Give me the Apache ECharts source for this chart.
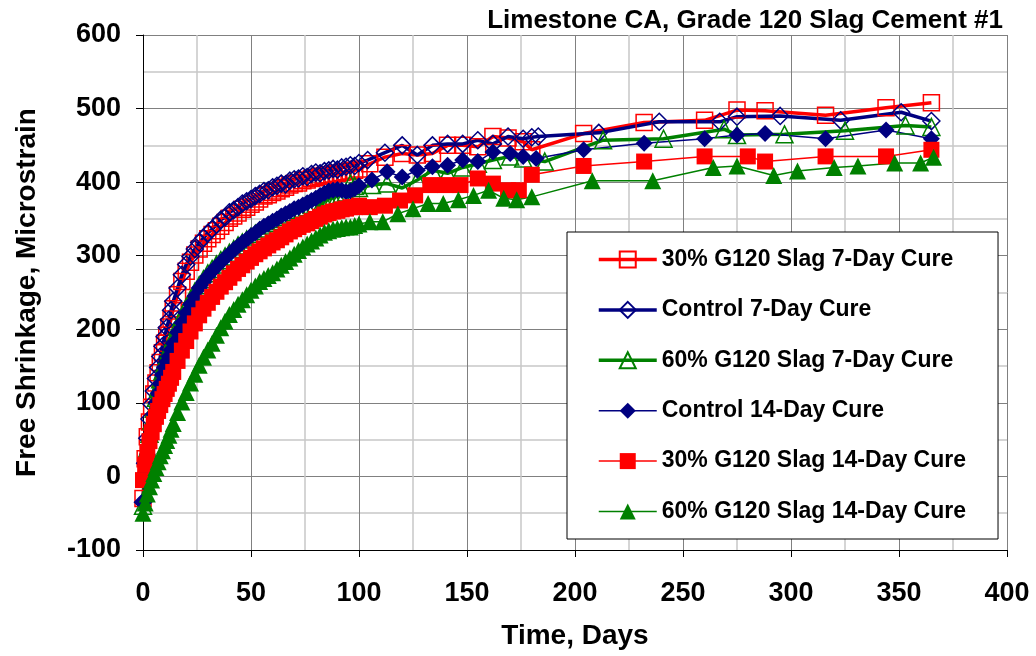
<!DOCTYPE html>
<html>
<head>
<meta charset="utf-8">
<script src="https://cdn.jsdelivr.net/npm/echarts@6/dist/echarts.min.js"></script>
<style>
html,body{margin:0;padding:0;background:#fff;}
#chart{width:1036px;height:656px;}
</style>
</head>
<body>
<div id="chart"></div>
<script>
// ---------- DATA ----------
const titleText = "Limestone CA, Grade 120 Slag Cement #1";
const xAxisTitle = "Time, Days";
const yAxisTitle = "Free Shrinkage, Microstrain";
const seriesNames = [
  "30% G120 Slag 7-Day Cure",
  "Control 7-Day Cure",
  "60% G120 Slag 7-Day Cure",
  "Control 14-Day Cure",
  "30% G120 Slag 14-Day Cure",
  "60% G120 Slag 14-Day Cure"
];

// shared reading days for the dense early period
const earlyDays = [0,1,2,3,4,5,6,7,8,9,10,11,12,13,14,16,18,20,22,24,26,28,30,32,34,36,38,40,42,44,46,48,50,52,54,56,58,60,62,64,66,68,70,72,74,76,78,80,82,84,86,88,90,92,94,96,98,100];

// 30% G120 Slag 7-Day Cure
const slag30c7Early = [-30,24,54,74,94,112,127,141,155,168,181,192,203,214,228,247,265,279,291,301,309,317,323,329,334,340,345,351,354,358,363,366,370,373,377,381,383,386,388,391,393,396,398,399,402,403,405,406,408,409,410,411,412,413,414,415,416,418];
const slag30c7LateDays = [105,112,120,127,134,141,148,155,162,169,176,180,204,232,260,275,288,316,344,365];
const slag30c7LateVals = [425,434,439,437,439,450,450,448,462,460,455,444,466,481,484,498,497,491,501,508];

// Control 7-Day Cure
const ctrlC7Early = [-35,18,52,78,98,116,133,148,163,177,190,202,213,226,238,256,274,288,299,309,318,324,331,336,342,349,352,359,362,366,371,374,377,381,384,388,389,393,395,398,397,402,404,405,408,407,411,413,412,415,416,418,417,420,421,423,422,426];
const ctrlC7LateDays = [104,112,120,127,134,141,148,155,162,169,176,180,183,211,239,267,275,295,323,351,365];
const ctrlC7LateVals = [430,440,450,437,450,452,452,457,452,462,459,461,462,467,482,482,489,490,484,495,483];

// 60% G120 Slag 7-Day Cure
const slag60c7Early = [-40,12,38,58,76,92,107,120,132,143,154,163,172,180,189,204,217,230,241,251,260,268,276,282,288,294,299,304,309,314,318,322,326,330,334,337,341,344,347,350,353,356,359,362,364,366,369,371,367,374,377,379,381,384,386,398,395,392];
const slag60c7LateDays = [106,113,120,127,134,141,148,155,162,170,176,186,213,241,269,275,297,325,353,365];
const slag60c7LateVals = [396,398,392,403,416,412,420,425,430,435,432,428,457,459,472,464,465,470,477,475];

// Control 14-Day Cure
const ctrlC14Early = [-35,5,30,50,68,85,100,113,126,138,148,156,163,172,181,196,209,222,234,245,256,264,272,279,285,291,297,302,308,313,318,322,327,331,336,340,343,347,350,354,357,360,364,366,369,372,375,378,382,385,388,389,390,389,387,388,391,395];
const ctrlC14LateDays = [106,113,120,127,134,141,148,155,162,170,176,182,204,232,260,275,288,316,344,365];
const ctrlC14LateVals = [403,414,407,416,421,423,430,428,441,439,435,432,444,453,459,464,466,459,471,459];

// 30% G120 Slag 14-Day Cure
const slag30c14Early = [-5,16,33,48,60,71,81,89,97,105,112,119,126,134,142,157,171,184,197,208,219,228,236,244,251,258,264,270,276,282,287,292,297,302,306,310,314,318,321,325,329,333,336,339,342,344,347,350,353,356,358,360,361,363,364,366,366,368];
const slag30c14LateDays = [105,112,119,126,133,140,147,155,162,169,174,180,204,232,260,280,288,316,344,365];
const slag30c14LateVals = [366,368,375,382,396,396,396,405,398,389,389,410,422,428,435,435,428,435,435,444];

// 60% G120 Slag 14-Day Cure
const slag60c14Early = [-50,-36,-24,-14,-5,4,12,20,28,35,42,49,56,64,72,87,101,114,127,139,151,162,172,181,192,202,211,220,227,234,240,247,253,259,265,269,273,277,282,287,292,297,302,307,312,316,320,324,328,332,334,336,337,338,339,339,341,343];
const slag60c14LateDays = [105,111,118,125,132,139,146,153,160,167,173,180,208,236,264,275,292,303,320,331,348,360,366];
const slag60c14LateVals = [346,346,357,364,371,371,376,382,389,378,376,380,402,402,420,422,409,415,420,422,426,426,434];

// axis ticks
const xMin = 0, xMax = 400, xStep = 50;
const yMin = -100, yMax = 600, yStep = 100;

// ---------- BUILD ----------
function pairs(days, vals){ return days.map((d,i)=>[d, vals[i]]); }
function join(early, lateDays, lateVals){ return pairs(earlyDays, early).concat(pairs(lateDays, lateVals)); }

const RED = '#ff0000', NAVY = '#000080', GREEN = '#008000';
const FONT = "'Liberation Sans', Arial, sans-serif";
const THICK = 3.5, THIN = 1.5;

function mk(name, data, color, symbol, size, open, lw){
  return {
    name: name, type: 'line', data: data,
    symbol: symbol, symbolSize: size, showAllSymbol: true,
    lineStyle: {color: color, width: lw},
    itemStyle: open ? {color: 'rgba(255,255,255,0)', borderColor: color, borderWidth: 1.5}
                    : {color: color, borderColor: color, borderWidth: 0},
    emphasis: {disabled: true},
    animation: false
  };
}

const series = [
  mk(seriesNames[0], join(slag30c7Early, slag30c7LateDays, slag30c7LateVals), RED, 'rect', 16, true, THICK),
  mk(seriesNames[1], join(ctrlC7Early, ctrlC7LateDays, ctrlC7LateVals), NAVY, 'diamond', 17, true, THICK),
  mk(seriesNames[2], join(slag60c7Early, slag60c7LateDays, slag60c7LateVals), GREEN, 'triangle', 17, true, THICK),
  mk(seriesNames[3], join(ctrlC14Early, ctrlC14LateDays, ctrlC14LateVals), NAVY, 'diamond', 17, false, THIN),
  mk(seriesNames[4], join(slag30c14Early, slag30c14LateDays, slag30c14LateVals), RED, 'rect', 16, false, THIN),
  mk(seriesNames[5], join(slag60c14Early, slag60c14LateDays, slag60c14LateVals), GREEN, 'triangle', 17, false, THIN)
];
const legendWidths = [THICK, THICK, THICK, THIN, THIN, THIN];
const legendColors = [RED, NAVY, GREEN, NAVY, RED, GREEN];

const chart = echarts.init(document.getElementById('chart'), null, {renderer: 'canvas'});
chart.setOption({
  animation: false,
  backgroundColor: '#fff',
  title: {
    text: titleText, right: 28, top: 3,
    textStyle: {fontFamily: FONT, fontSize: 26, fontWeight: 'bold', color: '#000'}
  },
  grid: {left: 143, right: 29, top: 35, bottom: 106, containLabel: false},
  xAxis: {
    type: 'value', min: xMin, max: xMax, interval: xStep,
    name: xAxisTitle, nameLocation: 'middle', nameGap: 72,
    nameTextStyle: {fontFamily: FONT, fontSize: 28, fontWeight: 'bold', color: '#000'},
    axisLine: {show: true, onZero: false, lineStyle: {color: '#000', width: 1}},
    axisTick: {show: true, length: 7, lineStyle: {color: '#000'}},
    axisLabel: {margin: 30, fontFamily: FONT, fontSize: 27, fontWeight: 'bold', color: '#000'},
    splitLine: {show: true, lineStyle: {color: '#808080', width: 1}},
    minorTick: {show: false, splitNumber: 2},
    minorSplitLine: {show: true, lineStyle: {color: '#c8c8c8', width: 1.5}}
  },
  yAxis: {
    type: 'value', min: yMin, max: yMax, interval: yStep,
    name: yAxisTitle, nameLocation: 'middle', nameGap: 102, nameRotate: 90,
    nameTextStyle: {fontFamily: FONT, fontSize: 28, fontWeight: 'bold', color: '#000'},
    axisLine: {show: true, onZero: false, lineStyle: {color: '#000', width: 1}},
    axisTick: {show: true, length: 7, lineStyle: {color: '#000'}},
    axisLabel: {margin: 22, fontFamily: FONT, fontSize: 27, fontWeight: 'bold', color: '#000'},
    splitLine: {show: true, lineStyle: {color: '#808080', width: 1}},
    minorTick: {show: false, splitNumber: 2},
    minorSplitLine: {show: true, lineStyle: {color: '#c8c8c8', width: 1.5}}
  },
  legend: {
    show: true, orient: 'vertical', left: 567, top: 232,
    padding: [16, 32, 16, 30],
    itemWidth: 58, itemHeight: 20, itemGap: 27.4,
    borderColor: '#000', borderWidth: 1, backgroundColor: '#fff',
    textStyle: {fontFamily: FONT, fontSize: 23, fontWeight: 'bold', color: '#000', lineHeight: 23},
    data: seriesNames.map((n, i) => ({name: n, lineStyle: {width: legendWidths[i], color: legendColors[i]}}))
  },
  series: series
});
</script>
</body>
</html>
